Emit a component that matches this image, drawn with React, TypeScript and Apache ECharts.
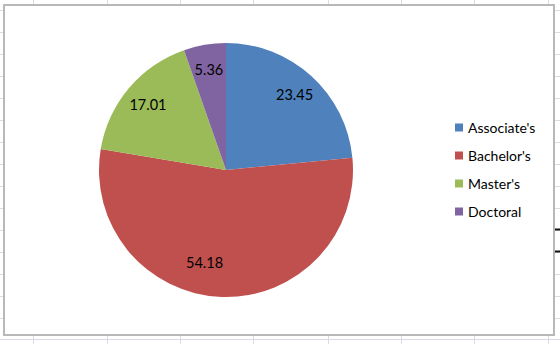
import React, { useEffect, useRef } from "react";
import * as echarts from "echarts";

const categories = ["Associate's", "Bachelor's", "Master's", "Doctoral"];
const values = [23.45, 54.18, 17.01, 5.36];
const colors = ["#4F81BD", "#C0504D", "#9BBB59", "#8064A2"];

const FONT = "Lato, 'Open Sans', sans-serif";

export default function App() {
  const ref = useRef<HTMLDivElement>(null);
  useEffect(() => {
    document.body.style.margin = "0";
    if (!ref.current) return;
    const chart = echarts.init(ref.current, null, { renderer: "svg" });
    const cx = 226;
    const cy = 170;
    const r = 127;
    const gridColor = "#d9dce8";
    const hYs = [10, 32, 54, 76, 98, 120, 142, 164, 186, 208, 230, 252, 274, 296, 318];
    const vXs = [33, 107, 180, 253, 328, 401, 474, 548];
    const deco: any[] = [];
    hYs.forEach((y) => {
      deco.push({ type: "line", silent: true, z: -1, shape: { x1: 0, y1: y + 0.5, x2: 3, y2: y + 0.5 }, style: { stroke: gridColor, lineWidth: 1 } });
      deco.push({ type: "line", silent: true, z: -1, shape: { x1: 555, y1: y + 0.5, x2: 560, y2: y + 0.5 }, style: { stroke: gridColor, lineWidth: 1 } });
    });
    vXs.forEach((x) => {
      deco.push({ type: "line", silent: true, z: -1, shape: { x1: x + 0.5, y1: 0, x2: x + 0.5, y2: 4 }, style: { stroke: gridColor, lineWidth: 1 } });
      deco.push({ type: "line", silent: true, z: -1, shape: { x1: x + 0.5, y1: 336, x2: x + 0.5, y2: 344 }, style: { stroke: gridColor, lineWidth: 1 } });
    });
    deco.push({ type: "line", silent: true, z: -1, shape: { x1: 0, y1: 339.5, x2: 560, y2: 339.5 }, style: { stroke: gridColor, lineWidth: 1 } });
    [229, 251].forEach((y) => {
      deco.push({ type: "line", silent: true, shape: { x1: 555, y1: y + 0.5, x2: 560, y2: y + 0.5 }, style: { stroke: "#111", lineWidth: 2 } });
    });
    deco.push({
      type: "rect",
      silent: true,
      z: -1,
      shape: { x: 4, y: 5, width: 550, height: 330 },
      style: { fill: "#fff", stroke: "#b8b8b8", lineWidth: 2 },
    });

    const data = categories.map((name, i) => ({ name, value: values[i], itemStyle: { color: colors[i] } }));
    chart.setOption({
      animation: false,
      backgroundColor: "#fff",
      graphic: deco,
      legend: {
        orient: "vertical",
        left: 450,
        top: 114,
        itemWidth: 8,
        itemHeight: 8,
        itemGap: 11,
        icon: "rect",
        data: categories.map((name, i) => ({ name, itemStyle: { color: colors[i] } })),
        textStyle: { fontFamily: FONT, fontSize: 14, color: "#000", lineHeight: 17 },
      },
      series: [
        {
          type: "pie",
          center: [cx, cy],
          radius: [0, r],
          startAngle: 90,
          clockwise: true,
          label: { show: false },
          labelLine: { show: false },
          itemStyle: { borderWidth: 0 },
          data,
        },
        {
          type: "pie",
          center: [cx, cy],
          radius: [r * 0.56, r],
          startAngle: 90,
          clockwise: true,
          silent: true,
          legendHoverLink: false,
          itemStyle: { color: "rgba(0,0,0,0)", borderWidth: 0 },
          label: {
            show: true,
            position: "inside",
            formatter: (p: any) => p.value.toFixed(2),
            color: "#000",
            fontFamily: FONT,
            fontSize: 14.5,
          },
          labelLayout: (p: any) =>
            p.dataIndex === 1
              ? {
                  x: p.labelRect.x + p.labelRect.width / 2 - 18,
                  y: p.labelRect.y + p.labelRect.height / 2 - 10,
                }
              : {},
          labelLine: { show: false },
          data: categories.map((name, i) => ({ name, value: values[i] })),
        },
      ],
    });
    return () => chart.dispose();
  }, []);
  return <div ref={ref} style={{ width: 560, height: 344 }} />;
}
